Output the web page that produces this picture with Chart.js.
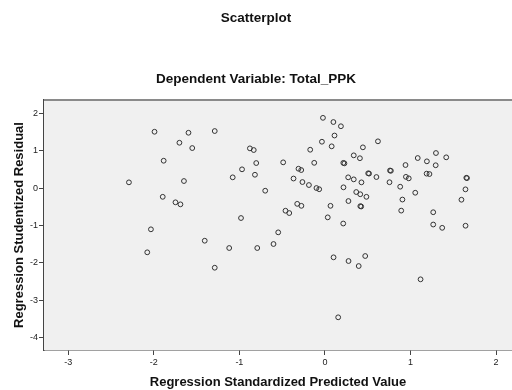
<!DOCTYPE html>
<html>
<head>
<meta charset="utf-8">
<script src="https://cdn.jsdelivr.net/npm/chart.js@4.4.1/dist/chart.umd.min.js"></script>
<style>
  html, body { margin: 0; padding: 0; background: #fff; }
  canvas { display: block; }
</style>
</head>
<body>
<canvas id="residualChart" width="512" height="390"></canvas>
<script>
// Regression Standardized Predicted Value (x)
var predicted = [
	-2.291, -2.077, -2.034, -1.992, -1.885, -1.896, -1.747, -1.689, -1.648, -1.701,
	-1.595, -1.551, -1.288, -1.405, -1.288, -1.119, -1.078, -0.981, -0.969, -0.877,
	-0.832, -0.803, -0.818, -0.791, -0.698, -0.601, -0.546, -0.488, -0.461, -0.417,
	-0.367, -0.324, -0.275, -0.309, -0.277, -0.263, -0.187, -0.172, -0.125, -0.099,
	-0.067, -0.035, -0.023, 0.033, 0.065, 0.079, 0.099, 0.112, 0.101, 0.155,
	0.187, 0.214, 0.215, 0.228, 0.217, 0.272, 0.275, 0.276, 0.337, 0.337,
	0.366, 0.395, 0.409, 0.413, 0.414, 0.424, 0.427, 0.444, 0.471, 0.485,
	0.506, 0.516, 0.602, 0.620, 0.755, 0.761, 0.771, 0.880, 0.892, 0.906,
	0.942, 0.947, 0.980, 1.056, 1.085, 1.118, 1.192, 1.189, 1.222, 1.266,
	1.266, 1.298, 1.295, 1.371, 1.418, 1.596, 1.643, 1.653, 1.661, 1.644
];

// Regression Studentized Residual (y)
var residuals = [
	0.154, -1.717, -1.102, 1.507, 0.732, -0.233, -0.380, -0.434, 0.189, 1.213,
	1.480, 1.071, 1.526, -1.407, -2.129, -1.602, 0.288, -0.800, 0.502, 1.063,
	1.018, 0.670, 0.357, -1.602, -0.070, -1.495, -1.183, 0.689, -0.605, -0.667,
	0.256, -0.421, -0.474, 0.518, 0.483, 0.162, 0.082, 1.026, 0.676, 0.002,
	-0.030, 1.240, 1.879, -0.782, -0.474, 1.117, 1.767, 1.406, -1.851, -3.455,
	1.654, -0.947, 0.674, 0.662, 0.021, 0.288, -0.346, -1.950, 0.234, 0.876,
	-0.105, -2.084, 0.799, -0.164, -0.483, -0.492, 0.154, 1.090, -1.816, -0.233,
	0.396, 0.388, 0.296, 1.251, 0.157, 0.471, 0.463, 0.037, -0.602, -0.306,
	0.617, 0.301, 0.261, -0.124, 0.804, -2.439, 0.716, 0.387, 0.376, -0.645,
	-0.974, 0.938, 0.611, -1.062, 0.823, -0.311, -0.033, 0.276, 0.268, -1.006
];

var xTicks = [-3, -2, -1, 0, 1, 2];
var yTicks = [2, 1, 0, -1, -2, -3, -4];

var fontFamily = '"Liberation Sans", Arial, sans-serif';

// light grey plot background + grey top frame line
var plotFrame = {
	id: 'plotFrame',
	beforeDatasetsDraw: function(chart) {
		var a = chart.chartArea;
		var c = chart.ctx;
		c.save();
		c.fillStyle = '#f0f0f0';
		c.fillRect(a.left, a.top, a.right - a.left, a.bottom - a.top);
		c.strokeStyle = '#8a8a8a';
		c.lineWidth = 2;
		c.beginPath();
		c.moveTo(a.left, a.top);
		c.lineTo(a.right, a.top);
		c.stroke();
		c.restore();
	}
};

var points = predicted.map(function(x, i) {
	return { x: x, y: residuals[i] };
});

var ctx = document.getElementById('residualChart').getContext('2d');

new Chart(ctx, {
	type: 'scatter',
	data: {
		datasets: [{
			data: points,
			pointRadius: 2.4,
			pointBorderWidth: 1,
			pointBackgroundColor: 'rgba(0,0,0,0)',
			pointBorderColor: '#333333'
		}]
	},
	options: {
		responsive: false,
		animation: false,
		layout: { padding: 0, autoPadding: false },
		plugins: {
			legend: { display: false },
			tooltip: { enabled: false },
			title: {
				display: true,
				text: 'Scatterplot',
				color: '#111',
				font: { family: fontFamily, size: 13.5, weight: 'bold' },
				padding: { top: 9.9, bottom: 0 }
			},
			subtitle: {
				display: true,
				text: 'Dependent Variable: Total_PPK',
				color: '#111',
				font: { family: fontFamily, size: 13.5, weight: 'bold' },
				padding: { top: 44.8, bottom: 12.9 }
			}
		},
		scales: {
			x: {
				type: 'linear',
				position: 'bottom',
				min: -3.284,
				max: 2.187,
				afterBuildTicks: function(scale) {
					scale.ticks = xTicks.map(function(v) { return { value: v }; });
				},
				afterFit: function(scale) {
					scale.height = 40;
					scale.paddingLeft = 0;
					scale.paddingRight = 0;
				},
				ticks: {
					color: '#222',
					font: { family: fontFamily, size: 9 },
					padding: 2.5,
					maxRotation: 0
				},
				grid: {
					drawOnChartArea: false,
					drawTicks: true,
					tickLength: 5,
					color: '#444'
				},
				border: { display: true, color: '#444', width: 1.5 },
				title: {
					display: true,
					text: 'Regression Standardized Predicted Value',
					color: '#111',
					font: { family: fontFamily, size: 13, weight: 'bold' },
					padding: { top: 0, bottom: 0 }
				}
			},
			y: {
				type: 'linear',
				position: 'left',
				min: -4.329,
				max: 2.356,
				afterBuildTicks: function(scale) {
					scale.ticks = yTicks.map(function(v) { return { value: v }; });
				},
				afterFit: function(scale) {
					scale.width = 44;
					scale.paddingTop = 0;
					scale.paddingBottom = 0;
				},
				ticks: {
					color: '#222',
					font: { family: fontFamily, size: 9 },
					padding: 1
				},
				grid: {
					drawOnChartArea: false,
					drawTicks: true,
					tickLength: 5,
					color: '#444'
				},
				border: { display: true, color: '#444', width: 1.5 },
				title: {
					display: true,
					text: 'Regression Studentized Residual',
					color: '#111',
					font: { family: fontFamily, size: 13, weight: 'bold' },
					padding: { top: 11.7, bottom: 0 }
				}
			}
		}
	},
	plugins: [plotFrame]
});
</script>
</body>
</html>
